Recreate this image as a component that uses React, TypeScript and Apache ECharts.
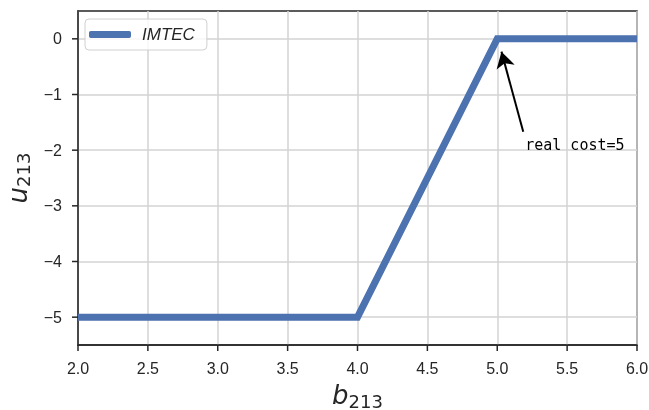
import React, { useEffect, useRef } from "react";
import * as echarts from "echarts";

const seriesName = "IMTEC";
const xValues = [2.0, 4.0, 5.0, 6.0];
const yValues = [-5, -5, 0, 0];
const xTicks = [2.0, 2.5, 3.0, 3.5, 4.0, 4.5, 5.0, 5.5, 6.0];
const yTicks = [-5, -4, -3, -2, -1, 0];
const xMin = 2.0;
const xMax = 6.0;
const yMin = -5.5;
const yMax = 0.5;
const arrowTail = [5.186, -1.67];
const arrowHead = [5.03, -0.23];
const noteAnchor = [5.2, -1.9];
const noteText = "real cost=5";

export default function App() {
  const ref = useRef<HTMLDivElement>(null);
  useEffect(() => {
    if (!ref.current) return;
    const chart = echarts.init(ref.current, null, { renderer: "svg" });
    const axisColor = "#262626";
    const gridColor = "#d3d3d3";
    const tickLen = 6;
    const tickFont = { fontFamily: "Liberation Sans", fontSize: 16, color: "#262626" };
    const nameRich = {
      i: { fontStyle: "italic", fontSize: 26, fontFamily: "DejaVu Sans", color: "#262626" },
      s: { fontSize: 18, fontFamily: "DejaVu Sans", color: "#262626", padding: [12, 0, 0, 0] },
    };
    chart.setOption({
      animation: false,
      grid: {
        left: 78,
        right: 12,
        top: 11,
        bottom: 65,
        outerBoundsMode: "none",
        containLabel: false,
        show: true,
        borderColor: axisColor,
        borderWidth: 1.5,
        backgroundColor: "#fff",
      },
      legend: {
        left: 85,
        top: 19,
        padding: [7, 12, 7, 4],
        borderColor: "#d0d0d0",
        borderWidth: 1,
        borderRadius: 4,
        itemWidth: 42,
        itemHeight: 7,
        itemGap: 10,
        icon: "roundRect",
        backgroundColor: "rgba(255,255,255,0.8)",
        textStyle: { fontStyle: "italic", fontSize: 17, fontFamily: "Liberation Sans", color: "#262626", padding: [0, 0, 0, 6] },
        data: [seriesName],
      },
      xAxis: {
        type: "value",
        min: xMin,
        max: xMax,
        interval: 0.5,
        name: "{i|b}{s|213}",
        nameLocation: "middle",
        nameGap: 35,
        nameTextStyle: { rich: nameRich },
        axisLine: { show: true, onZero: false, lineStyle: { color: axisColor, width: 1.5 } },
        axisTick: { show: false },
        axisLabel: { ...tickFont, margin: 15, formatter: (v: number) => v.toFixed(1) },
        splitLine: { show: true, lineStyle: { color: gridColor, width: 1.5 } },
      },
      yAxis: {
        type: "value",
        min: yMin,
        max: yMax,
        name: "{i|u}{s|213}",
        nameLocation: "middle",
        nameRotate: 90,
        nameGap: 39,
        nameTextStyle: { rich: nameRich },
        axisLine: { show: true, onZero: false, lineStyle: { color: axisColor, width: 1.5 } },
        axisTick: { show: false, customValues: yTicks },
        axisLabel: {
          ...tickFont,
          margin: 16,
          customValues: yTicks,
          formatter: (v: number) => (v < 0 ? "\u2212" + Math.abs(v) : String(v)),
        },
        splitLine: { show: true, lineStyle: { color: gridColor, width: 1.5 } },
      },
      series: [
        {
          name: seriesName,
          type: "line",
          data: xValues.map((x, i) => [x, yValues[i]]),
          showSymbol: false,
          symbol: "none",
          color: "#4c72b0",
          lineStyle: { color: "#4c72b0", width: 7, cap: "butt", join: "miter" },
          markLine: {
            silent: true,
            symbol: ["none", "arrow"],
            symbolSize: [14, 16],
            label: { show: false },
            lineStyle: { color: "#000", width: 2, type: "solid" },
            data: [[{ coord: arrowTail }, { coord: arrowHead }]],
          },
          markPoint: {
            silent: true,
            symbol: "circle",
            symbolSize: 0,
            label: {
              show: true,
              position: "right",
              distance: 0,
              formatter: noteText,
              fontFamily: "DejaVu Sans Mono",
              fontSize: 15,
              color: "#000",
            },
            data: [{ coord: noteAnchor }],
          },
        },
        {
          name: "xTicks",
          type: "custom",
          silent: true,
          clip: false,
          data: xTicks.map((v) => [v, yMin]),
          renderItem: (_p: any, api: any) => {
            const pt = api.coord([api.value(0), api.value(1)]);
            return {
              type: "line",
              shape: { x1: pt[0], y1: pt[1], x2: pt[0], y2: pt[1] + tickLen },
              style: { stroke: axisColor, lineWidth: 1.5 },
            };
          },
        },
        {
          name: "yTicks",
          type: "custom",
          silent: true,
          clip: false,
          data: yTicks.map((v) => [xMin, v]),
          renderItem: (_p: any, api: any) => {
            const pt = api.coord([api.value(0), api.value(1)]);
            return {
              type: "line",
              shape: { x1: pt[0] - tickLen, y1: pt[1], x2: pt[0], y2: pt[1] },
              style: { stroke: axisColor, lineWidth: 1.5 },
            };
          },
        },
      ],
    });
    return () => chart.dispose();
  }, []);
  return <div ref={ref} style={{ position: "fixed", left: 0, top: 0, width: 649, height: 410 }} />;
}
